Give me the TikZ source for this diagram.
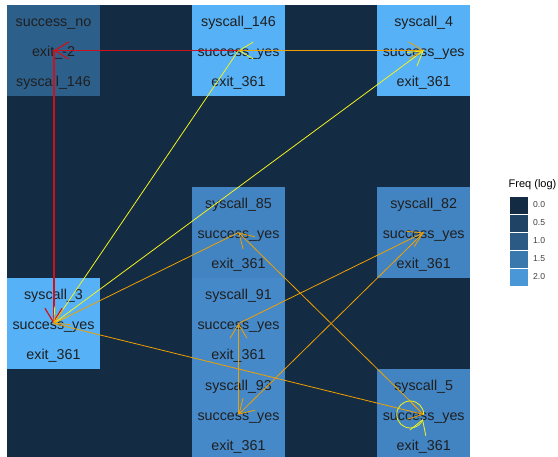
\documentclass[tikz,border=0pt]{standalone}
\usepackage{fontspec}
\setmainfont{Liberation Sans}
\usetikzlibrary{arrows.meta}
\definecolor{panel}{HTML}{132B43}
\definecolor{fhi}{HTML}{56B1F7}
\definecolor{fmid}{HTML}{4284C2}
\definecolor{fmidb}{HTML}{4689C9}
\definecolor{flo}{HTML}{2D5F8B}
\definecolor{ered}{HTML}{D0101C}
\definecolor{eyel}{HTML}{F2F21E}
\definecolor{eora}{HTML}{F0A000}
\definecolor{kzero}{HTML}{132B43}
\definecolor{khalf}{HTML}{1F4364}
\definecolor{kone}{HTML}{2B5A84}
\definecolor{konehalf}{HTML}{3978AC}
\definecolor{ktwo}{HTML}{4A97D8}
\begin{document}
\begin{tikzpicture}[x=1pt,y=-1pt,
  tile/.style={minimum width=92.6pt,minimum height=91pt,inner sep=0pt,draw=none},
  lbl/.style={font=\fontsize{14.3}{16}\selectfont,text=black!88,inner sep=0pt,text height=12pt,text depth=0pt},
  edge/.style={line width=0.8pt,-{Straight Barb[length=14pt,width=17pt]}},
  redge/.style={edge,draw=ered,line width=1.2pt}, yedge/.style={edge,draw=eyel}, oedge/.style={edge,draw=eora},
  key/.style={minimum width=19pt,minimum height=18pt,inner sep=0pt,draw=white,line width=0.4pt},
  keylbl/.style={font=\fontsize{8.6}{10}\selectfont,text=black!75,anchor=west,inner sep=0pt}]
\useasboundingbox (0,0) rectangle (558,457);
\fill[panel] (7,5) rectangle (470,457);
% tiles
\node[tile,fill=flo] (tno) at (53.5,50.5) {};
\node[tile,fill=fhi] (t146) at (238.5,50.5) {};
\node[tile,fill=fhi] (t4) at (423.7,50.5) {};
\node[tile,fill=fmid] (t85) at (238.5,232.5) {};
\node[tile,fill=fmid] (t82) at (423.7,232.5) {};
\node[tile,fill=fhi] (t3) at (53.5,323.5) {};
\node[tile,fill=fmidb] (t91) at (238.5,323.5) {};
\node[tile,fill=fmidb] (t93) at (238.5,414.5) {};
\node[tile,fill=fmid] (t5) at (423.7,414.5) {};
\fill[white] (0,457) rectangle (558,470);
% labels
\node[lbl] (ano) at (53.5,20.5) {success\_no}; \node[lbl] (e2) at (53.5,50.5) {exit\_-2}; \node[lbl] (bno) at (53.5,80.5) {syscall\_146};
\node[lbl] (a146) at (238.5,20.5) {syscall\_146}; \node[lbl] (s146) at (238.5,50.5) {success\_yes}; \node[lbl] (b146) at (238.5,80.5) {exit\_361};
\node[lbl] (a4) at (423.7,20.5) {syscall\_4}; \node[lbl] (s4) at (423.7,50.5) {success\_yes}; \node[lbl] (b4) at (423.7,80.5) {exit\_361};
\node[lbl] (a85) at (238.5,202.5) {syscall\_85}; \node[lbl] (s85) at (238.5,232.5) {success\_yes}; \node[lbl] (b85) at (238.5,262.5) {exit\_361};
\node[lbl] (a82) at (423.7,202.5) {syscall\_82}; \node[lbl] (s82) at (423.7,232.5) {success\_yes}; \node[lbl] (b82) at (423.7,262.5) {exit\_361};
\node[lbl] (a3) at (53.5,293.5) {syscall\_3}; \node[lbl] (s3) at (53.5,323.5) {success\_yes}; \node[lbl] (b3) at (53.5,353.5) {exit\_361};
\node[lbl] (a91) at (238.5,293.5) {syscall\_91}; \node[lbl] (s91) at (238.5,323.5) {success\_yes}; \node[lbl] (b91) at (238.5,353.5) {exit\_361};
\node[lbl] (a93) at (238.5,384.5) {syscall\_93}; \node[lbl] (s93) at (238.5,414.5) {success\_yes}; \node[lbl] (b93) at (238.5,444.5) {exit\_361};
\node[lbl] (a5) at (423.7,384.5) {syscall\_5}; \node[lbl] (s5) at (423.7,414.5) {success\_yes}; \node[lbl] (b5) at (423.7,444.5) {exit\_361};
% transitions
\draw[yedge] (s4.center) -- (s146.center);
\draw[oedge] (s146.center) -- (s4.center);
\draw[redge] (s146.center) -- (e2.center);
\draw[redge,line width=2pt,-{Straight Barb[length=14pt,width=17pt,line width=1.2pt]}] (e2.center) -- (s3.center);
\draw[yedge] (s146.center) -- (s3.center);
\draw[yedge] (s3.center) -- (s4.center);
\draw[oedge] (s85.center) -- (s3.center);
\draw[oedge] (s3.center) -- (s5.center);
\draw[oedge] (s5.center) -- (s85.center);
\draw[oedge] (s91.center) -- (s82.center);
\draw[oedge] (s82.center) -- (s93.center);
\draw[oedge] (s93.center) -- (s91.center);
\draw[yedge] (s5.center) arc[start angle=0,end angle=340,radius=13.5pt];
% legend
\node[anchor=west,inner sep=0pt,font=\fontsize{11}{13}\selectfont] (ltitle) at (508.5,185) {Freq (log)};
\node[key,fill=kzero] (k0) at (518.5,205) {}; \node[keylbl] (l0) at (533,205) {0.0};
\node[key,fill=khalf] (k1) at (518.5,223) {}; \node[keylbl] (l1) at (533,223) {0.5};
\node[key,fill=kone] (k2) at (518.5,241) {}; \node[keylbl] (l2) at (533,241) {1.0};
\node[key,fill=konehalf] (k3) at (518.5,259) {}; \node[keylbl] (l3) at (533,259) {1.5};
\node[key,fill=ktwo] (k4) at (518.5,277) {}; \node[keylbl] (l4) at (533,277) {2.0};
\end{tikzpicture}
\end{document}
